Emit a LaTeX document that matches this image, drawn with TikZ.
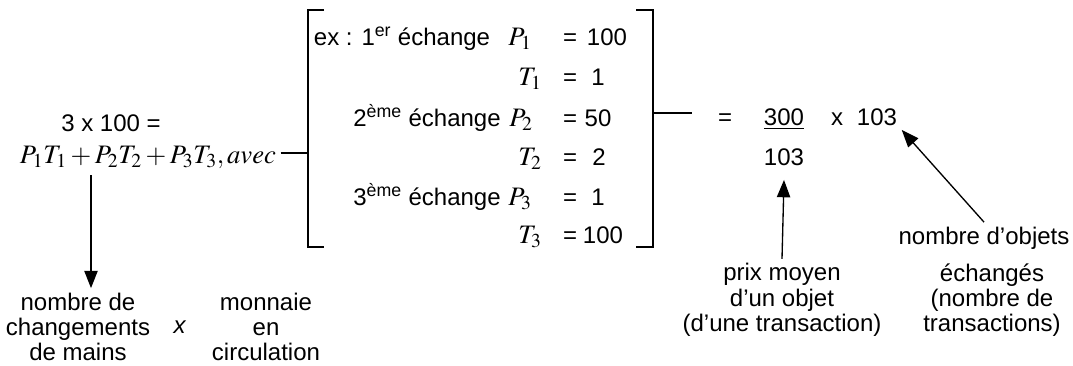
\documentclass[tikz,border=0pt]{standalone}
\usepackage{mathptmx}
\usepackage[no-math]{fontspec}
\setmainfont{Liberation Sans}
\usetikzlibrary{positioning,arrows.meta,calc}

\tikzset{
  txt/.style={font=\fontsize{18}{19}\selectfont, anchor=base},
  mth/.style={font=\fontsize{20}{24}\selectfont, anchor=base},
  lbl/.style={font=\fontsize{18}{19}\selectfont, align=center},
  arr/.style={-{Triangle[length=13pt,width=10pt]}, line width=1pt},
}

\begin{document}
\begin{tikzpicture}[x=0.75pt, y=-0.75pt]
  \useasboundingbox (0,0) rectangle (1073,365);
  % left side
  \node[txt] (prod) at (111,131) {3 x 100 =};
  \node[mth] (sum) at (148,163) {$P_1T_1+P_2T_2+P_3T_3, avec$};
  % bracket
  \coordinate (bl) at (308,153);
  \coordinate (br) at (653,113);
  \draw[line width=1pt] (324,10) -- (308,10) -- (308,247) -- (324,247);
  \draw[line width=1pt] (636,10) -- (653,10) -- (653,247) -- (636,247);
  \draw[line width=1pt] (sum.east |- bl) -- (bl);
  \node[txt] (ex1) at (402,45) {ex : 1\textsuperscript{er} échange};
  \node[txt] (ex2) at (427,126) {2\textsuperscript{ème} échange};
  \node[txt] (ex3) at (427,205) {3\textsuperscript{ème} échange};
  \foreach \var/\xv/\y/\val/\xval [count=\i] in
    {P_1/520/45/100/607, T_1/530/85/1/598, P_2/521/126/50/598,
     T_2/530/165/2/599, P_3/520/205/1/598, T_3/530/243/100/603}
  {
    \node[mth] (v\i) at (\xv,\y) {$\var$};
    \node[txt] (e\i) at (570,\y) {=};
    \node[txt] (n\i) at (\xval,\y) {\val};
  }
  % right side
  \coordinate (rc) at (692,113);
  \draw[line width=1pt] (br) -- (rc);
  \node[txt] (eq) at (725,125) {=};
  \node[txt] (num) at (784,125) {\underline{300}};
  \node[txt] (times) at (837,125) {x};
  \node[txt] (tot) at (877,125) {103};
  \node[txt] (den) at (784,165) {103};
  % labels
  \node[lbl] (chg) at (78,327) {nombre de\\changements\\de mains};
  \node[lbl] (mul) at (180,327) {\textit{x}};
  \node[lbl] (mon) at (266,327) {monnaie\\en\\circulation};
  \node[lbl] (prix) at (782,300) {prix moyen\\d’un objet\\(d’une transaction)};
  \node[lbl] (obj) at (984,238) {nombre d’objets};
  \node[lbl] (ech) at (992,300) {échangés\\(nombre de\\transactions)};
  % arrows
  \coordinate (a1) at (91,175);
  \draw[arr] (a1) -- (a1 |- chg.north);
  \draw[arr] (prix.north) -- ($(den.south)+(0,10)$);
  \draw[arr] (obj.north) -- (tot.south east);
\end{tikzpicture}
\end{document}
